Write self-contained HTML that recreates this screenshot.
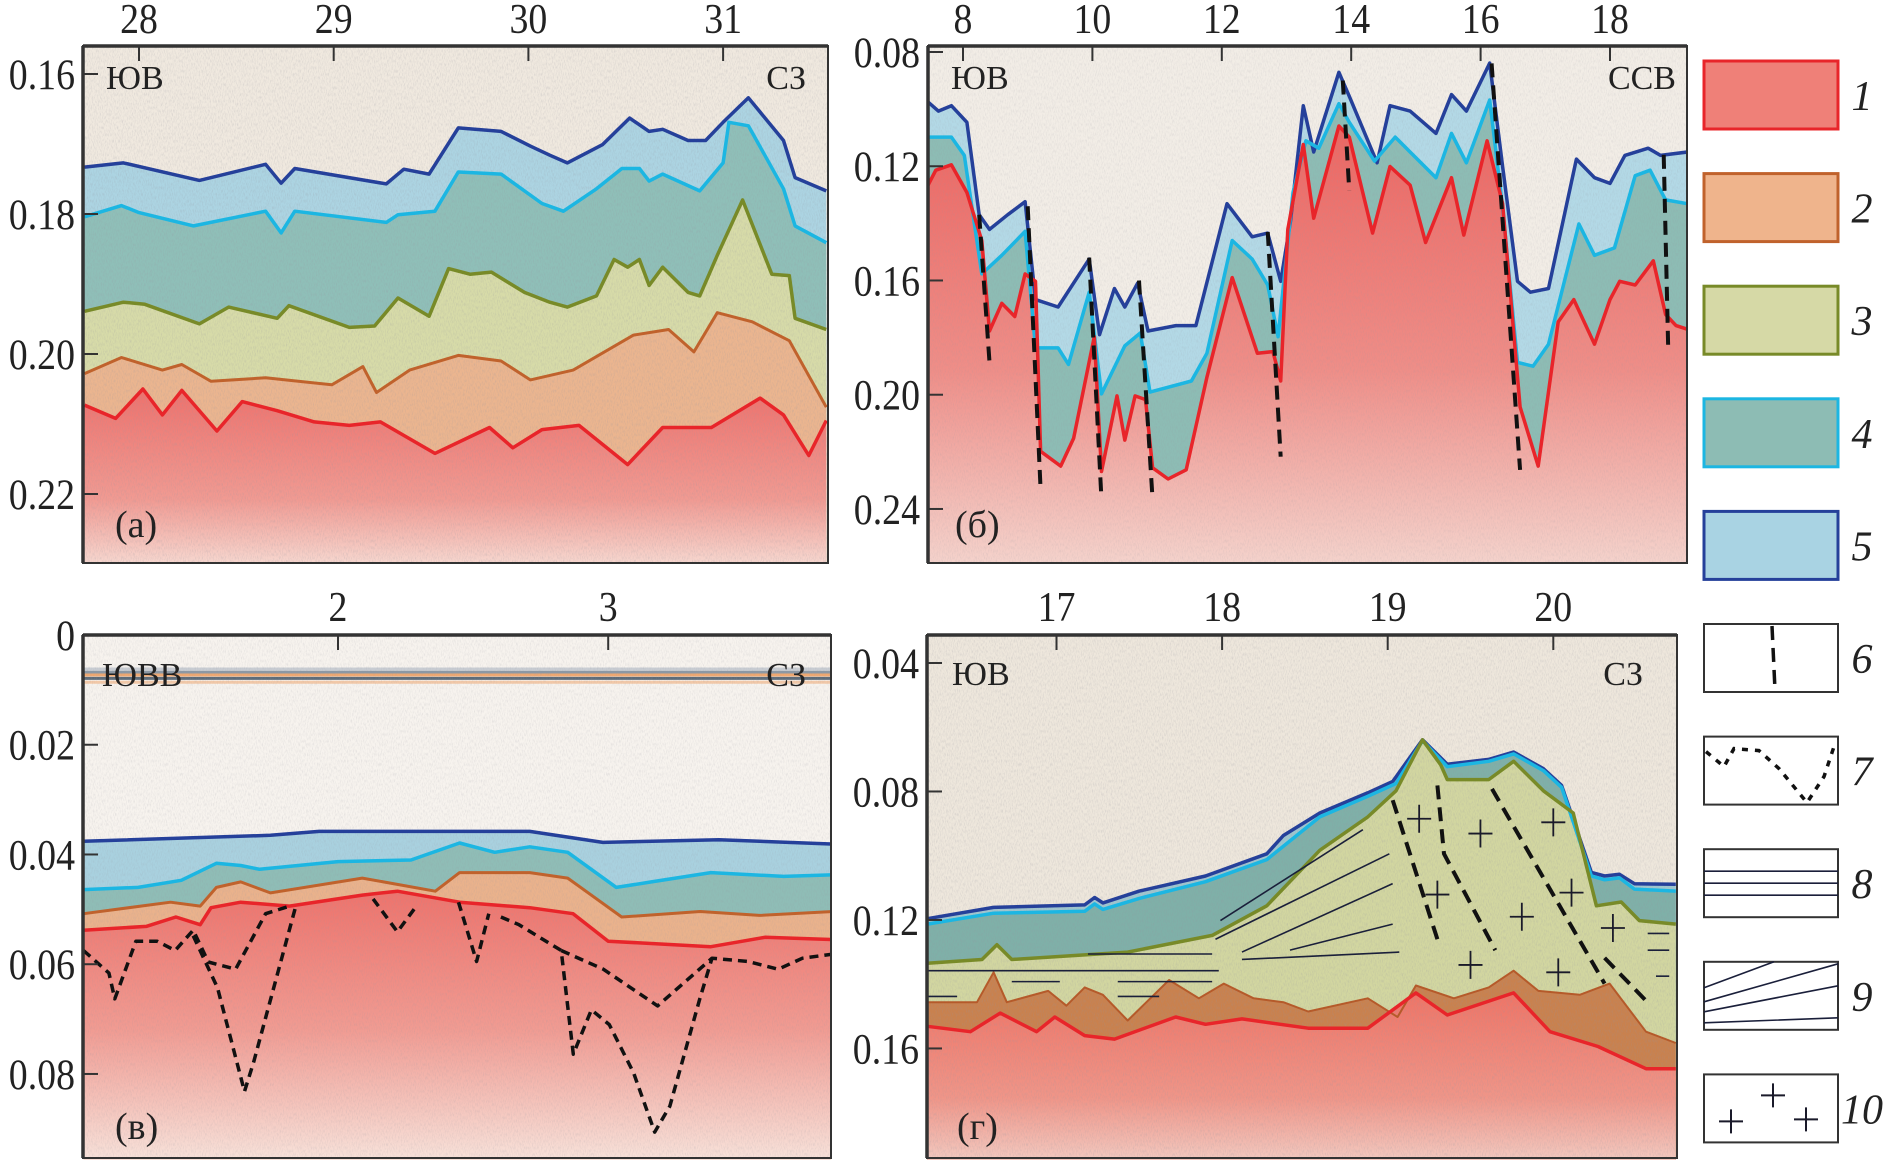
<!DOCTYPE html>
<html><head><meta charset="utf-8">
<style>
html,body{margin:0;padding:0;background:#fff;}
svg{display:block;}
text{font-family:"Liberation Serif",serif;fill:#222;}
</style></head>
<body>
<svg id="fig" xmlns="http://www.w3.org/2000/svg" width="1893" height="1160" viewBox="0 0 1893 1160">
<defs>
<filter id="noise" x="0" y="0" width="100%" height="100%">
<feTurbulence type="fractalNoise" baseFrequency="1.2 0.3" numOctaves="2" seed="3"/>
<feColorMatrix type="matrix" values="0 0 0 0 0.3  0 0 0 0 0.3  0 0 0 0 0.35  0 0 0 -2.4 1.35"/>
</filter>
<linearGradient id="redA" x1="0" y1="0" x2="0" y2="1"><stop offset="0" stop-color="#ee716c"/><stop offset="0.6" stop-color="#f19a92"/><stop offset="1" stop-color="#f8e0d8"/></linearGradient>
<linearGradient id="redB" x1="0" y1="0" x2="0" y2="1"><stop offset="0" stop-color="#ec6662"/><stop offset="0.55" stop-color="#ef8e88"/><stop offset="1" stop-color="#f5d6cf"/></linearGradient>
<linearGradient id="redC" x1="0" y1="0" x2="0" y2="1"><stop offset="0" stop-color="#ee736c"/><stop offset="0.5" stop-color="#f19b92"/><stop offset="1" stop-color="#f8e6de"/></linearGradient>
<linearGradient id="redD" x1="0" y1="0" x2="0" y2="1"><stop offset="0" stop-color="#ef7466"/><stop offset="0.6" stop-color="#f09588"/><stop offset="1" stop-color="#f3cfc6"/></linearGradient>
<clipPath id="clipA"><rect x="83" y="46" width="745" height="517"/></clipPath>
<clipPath id="clipB"><rect x="928" y="46" width="759" height="517"/></clipPath>
<clipPath id="clipC"><rect x="83" y="635" width="748" height="525"/></clipPath>
<clipPath id="clipD"><rect x="927" y="635" width="750" height="525"/></clipPath>
</defs>
</svg>
<script>
// ---------- Panel (a) data: distance km, time s ----------
const aNavyKm=[27.72,27.92,28.31,28.65,28.73,28.80,29.27,29.36,29.49,29.64,29.86,30.01,30.11,30.20,30.38,30.52,30.62,30.69,30.82,30.91,31.00,31.13,31.31,31.37,31.53];
const aNavyT=[0.1733,0.1727,0.1752,0.1729,0.1756,0.1735,0.1757,0.1736,0.1743,0.1677,0.1682,0.1703,0.1716,0.1727,0.1701,0.1663,0.1682,0.1679,0.1695,0.1695,0.1669,0.1634,0.1695,0.1748,0.1767];
const aCyanKm=[27.72,27.91,28.00,28.28,28.65,28.73,28.80,29.27,29.33,29.52,29.64,29.86,30.07,30.18,30.35,30.48,30.57,30.62,30.69,30.88,31.00,31.03,31.13,31.31,31.37,31.53];
const aCyanT=[0.1804,0.1788,0.1798,0.1817,0.1796,0.1827,0.1796,0.1812,0.1801,0.1796,0.1740,0.1743,0.1785,0.1796,0.1764,0.1735,0.1735,0.1753,0.1743,0.1767,0.1727,0.1669,0.1674,0.1764,0.1817,0.1841];
const aOliveKm=[27.72,27.92,28.03,28.31,28.46,28.71,28.77,29.08,29.21,29.33,29.49,29.59,29.70,29.81,29.98,30.11,30.20,30.35,30.44,30.51,30.57,30.62,30.69,30.82,30.88,30.97,31.10,31.25,31.34,31.37,31.53];
const aOliveT=[0.1939,0.1926,0.1929,0.1957,0.1933,0.1949,0.1931,0.1962,0.1960,0.1920,0.1946,0.1878,0.1886,0.1883,0.1912,0.1926,0.1933,0.1917,0.1865,0.1876,0.1865,0.1902,0.1876,0.1912,0.1917,0.1859,0.1780,0.1886,0.1888,0.1949,0.1965];
const aOrangeKm=[27.72,27.91,28.12,28.22,28.37,28.65,28.99,29.15,29.22,29.39,29.64,29.86,30.01,30.23,30.54,30.72,30.85,30.97,31.15,31.34,31.53];
const aOrangeT=[0.2028,0.2005,0.2023,0.2015,0.2039,0.2034,0.2044,0.2018,0.2055,0.2023,0.2002,0.2010,0.2037,0.2023,0.1973,0.1965,0.1997,0.1941,0.1954,0.1981,0.2076];
const aRedKm=[27.72,27.88,28.02,28.12,28.22,28.40,28.53,28.71,28.90,29.08,29.24,29.52,29.80,29.92,30.07,30.26,30.51,30.69,30.94,31.19,31.31,31.44,31.53];
const aRedT=[0.2073,0.2092,0.2050,0.2087,0.2052,0.2110,0.2068,0.2081,0.2097,0.2102,0.2097,0.2142,0.2105,0.2134,0.2108,0.2102,0.2158,0.2105,0.2105,0.2063,0.2087,0.2145,0.2095];
const aTicksX=[28,29,30,31];
const aTicksY=[0.16,0.18,0.20,0.22];

// ---------- Panel (б) ----------
const bNavyKm=[7.46,7.62,7.82,8.06,8.25,8.41,8.69,8.96,9.12,9.47,9.95,10.11,10.34,10.50,10.70,10.86,11.29,11.60,12.08,12.47,12.71,12.91,13.06,13.26,13.42,13.81,13.97,14.40,14.60,14.91,15.31,15.55,15.78,16.14,16.34,16.57,16.77,17.05,17.48,17.76,18.00,18.23,18.59,18.78,19.20];
const bNavyT=[0.0975,0.1007,0.0988,0.1046,0.1370,0.1421,0.1370,0.1324,0.1667,0.1693,0.1525,0.1790,0.1628,0.1693,0.1609,0.1777,0.1758,0.1758,0.1331,0.1447,0.1434,0.1603,0.1395,0.0988,0.1150,0.0871,0.0955,0.1188,0.0988,0.1007,0.1085,0.0949,0.1007,0.0839,0.1201,0.1603,0.1641,0.1628,0.1175,0.1240,0.1260,0.1162,0.1137,0.1162,0.1150];
const bCyanKm=[7.46,7.82,8.02,8.29,8.60,8.96,9.12,9.47,9.63,9.95,10.14,10.50,10.74,10.89,11.53,11.77,12.16,12.47,12.71,12.87,13.10,13.30,13.50,13.81,13.97,14.36,14.68,14.91,15.31,15.55,15.78,16.14,16.34,16.57,16.81,17.05,17.52,17.76,18.07,18.39,18.62,18.86,19.20];
const bCyanT=[0.1098,0.1098,0.1162,0.1577,0.1512,0.1428,0.1836,0.1836,0.1894,0.1641,0.1997,0.1829,0.1784,0.1991,0.1952,0.1855,0.1460,0.1525,0.1616,0.1797,0.1292,0.1111,0.1137,0.0981,0.1046,0.1182,0.1098,0.1150,0.1240,0.1085,0.1188,0.0968,0.1344,0.1887,0.1900,0.1823,0.1402,0.1512,0.1486,0.1233,0.1214,0.1318,0.1331];
const bRedKm=[7.46,7.58,7.82,8.06,8.29,8.41,8.60,8.80,8.96,9.12,9.20,9.51,9.71,10.03,10.14,10.38,10.50,10.66,10.82,10.93,11.17,11.45,11.77,12.16,12.55,12.79,12.91,13.02,13.26,13.42,13.81,13.97,14.33,14.60,14.91,15.15,15.55,15.74,16.10,16.34,16.61,16.89,17.20,17.44,17.76,18.00,18.15,18.39,18.67,18.86,19.02,19.20];
const bRedT=[0.1266,0.1214,0.1195,0.1292,0.1460,0.1777,0.1680,0.1726,0.1577,0.1603,0.2198,0.2250,0.2153,0.1797,0.2269,0.2004,0.2159,0.2004,0.2017,0.2256,0.2295,0.2263,0.1939,0.1590,0.1855,0.1849,0.1952,0.1421,0.1124,0.1382,0.1059,0.1098,0.1434,0.1201,0.1266,0.1467,0.1240,0.1441,0.1111,0.1331,0.2043,0.2250,0.1745,0.1667,0.1823,0.1667,0.1603,0.1616,0.1531,0.1719,0.1758,0.1771];
const bFaultKm0=[8.25,9.00,9.95,10.72,12.71,13.87,16.17,18.83];
const bFaultT0=[0.137,0.134,0.152,0.160,0.143,0.090,0.084,0.116];
const bFaultKm1=[8.41,9.20,10.14,10.93,12.91,13.97,16.61,18.90];
const bFaultT1=[0.1887,0.2334,0.2366,0.2366,0.2217,0.1285,0.2263,0.1842];
const bTicksX=[8,10,12,14,16,18];
const bTicksY=[0.08,0.12,0.16,0.20,0.24];

// ---------- Panel (в) ----------
const cNavyKm=[1.058,1.75,1.93,2.45,2.71,2.98,3.41,3.83];
const cNavyT=[0.0376,0.0365,0.0358,0.0358,0.0358,0.0378,0.0373,0.0381];
const cCyanKm=[1.058,1.26,1.42,1.55,1.64,1.71,2.00,2.27,2.45,2.58,2.71,2.85,3.03,3.16,3.38,3.65,3.83];
const cCyanT=[0.0464,0.0460,0.0447,0.0416,0.0420,0.0427,0.0413,0.0410,0.0379,0.0396,0.0386,0.0396,0.0460,0.0450,0.0433,0.0440,0.0437];
const cOrangeKm=[1.058,1.38,1.49,1.55,1.64,1.75,2.09,2.36,2.45,2.71,2.85,3.05,3.34,3.56,3.83];
const cOrangeT=[0.0508,0.0487,0.0494,0.0460,0.0450,0.0470,0.0443,0.0467,0.0433,0.0433,0.0443,0.0514,0.0504,0.0511,0.0504];
const cRedKm=[1.058,1.29,1.40,1.49,1.53,1.64,1.82,2.09,2.22,2.45,2.71,2.87,3.00,3.38,3.58,3.83];
const cRedT=[0.0538,0.0531,0.0514,0.0528,0.0497,0.0487,0.0494,0.0474,0.0467,0.0487,0.0497,0.0508,0.0558,0.0568,0.0551,0.0555];
const cDotAKm=[1.058,1.152,1.174,1.252,1.330,1.397,1.464,1.520,1.621,1.732,1.821];
const cDotAT=[0.0575,0.0616,0.0663,0.0558,0.0558,0.0575,0.0538,0.0596,0.0609,0.0508,0.0494];
const cDotBKm=[1.464,1.554,1.654,1.688,1.844];
const cDotBT=[0.0548,0.0643,0.0832,0.0778,0.0494];
const cDotCKm=[2.603,2.670,2.759,2.826,2.871,2.938,3.004,3.094,3.172,3.228,3.339,3.384];
const cDotCT=[0.0514,0.0528,0.0555,0.0575,0.0764,0.0683,0.0710,0.0798,0.0906,0.0859,0.0663,0.0589];
const cDotDKm=[2.826,2.982,3.183,3.384,3.518,3.629,3.719,3.826];
const cDotDT=[0.0575,0.0609,0.0676,0.0589,0.0595,0.0609,0.0589,0.0582];
const cDotEKm=[2.13,2.22,2.29];
const cDotET=[0.0481,0.0541,0.0494];
const cDotFKm=[2.446,2.513,2.558];
const cDotFT=[0.0487,0.0595,0.0508];
const cTicksX=[2,3];
const cTicksY=[0,0.02,0.04,0.06,0.08];

// ---------- Panel (г) ----------
const dNavyKm=[16.22,16.62,17.17,17.23,17.28,17.50,17.90,18.27,18.37,18.59,18.88,19.03,19.21,19.36,19.61,19.76,19.94,20.05,20.23,20.31,20.40,20.49,20.74];
const dNavyT=[0.1196,0.1161,0.1153,0.1130,0.1147,0.1110,0.1063,0.0994,0.0937,0.0867,0.0804,0.0769,0.0639,0.0715,0.0700,0.0677,0.0729,0.0781,0.1052,0.1063,0.1058,0.1087,0.1089];
const dCyanKm=[16.22,16.62,17.17,17.23,17.28,17.50,17.90,18.27,18.59,18.88,19.05,19.21,19.36,19.61,19.76,19.94,20.05,20.23,20.31,20.40,20.49,20.74];
const dCyanT=[0.1213,0.1179,0.1173,0.1150,0.1167,0.1133,0.1081,0.1012,0.0879,0.0815,0.0775,0.0642,0.0723,0.0706,0.0683,0.0735,0.0787,0.1063,0.1075,0.1069,0.1104,0.1110];
const dOliveKm=[16.22,16.55,16.64,16.73,17.43,17.94,18.27,18.59,18.88,19.05,19.21,19.32,19.36,19.61,19.76,19.94,20.12,20.26,20.41,20.52,20.74];
const dOliveT=[0.1335,0.1323,0.1277,0.1323,0.1300,0.1248,0.1156,0.0983,0.0879,0.0798,0.0639,0.0717,0.0763,0.0763,0.0706,0.0798,0.0867,0.1156,0.1144,0.1202,0.1213];
const dOrangeKm=[16.22,16.52,16.62,16.70,16.95,17.06,17.17,17.28,17.43,17.68,17.86,18.01,18.19,18.37,18.52,18.88,19.06,19.17,19.40,19.61,19.76,19.91,20.16,20.34,20.56,20.74];
const dOrangeT=[0.1456,0.1456,0.1363,0.1456,0.1421,0.1467,0.1410,0.1433,0.1513,0.1387,0.1444,0.1398,0.1444,0.1456,0.1485,0.1444,0.1502,0.1404,0.1444,0.1410,0.1358,0.1421,0.1433,0.1398,0.1548,0.1583];
const dRedKm=[16.22,16.48,16.66,16.88,16.99,17.17,17.35,17.72,17.90,18.12,18.52,18.88,19.17,19.36,19.76,19.98,20.27,20.56,20.74];
const dRedT=[0.1531,0.1548,0.1490,0.1548,0.1502,0.1560,0.1571,0.1502,0.1525,0.1508,0.1537,0.1537,0.1427,0.1496,0.1427,0.1548,0.1594,0.1663,0.1663];
const dFault1Km=[19.03,19.30];   const dFault1T=[0.0827,0.1260];
const dFault2Km=[19.30,19.34,19.65]; const dFault2T=[0.0781,0.0994,0.1294];
const dFault3Km=[19.63,20.31];   const dFault3T=[0.0792,0.1398];
const dFault4Km=[20.31,20.58];   const dFault4T=[0.1318,0.1462];
const dRayKm0=[17.99,17.96,18.12,18.41,18.12];
const dRayT0=[0.1202,0.1260,0.1300,0.1294,0.1323];
const dRayKm1=[18.85,19.01,19.03,19.03,19.07];
const dRayT1=[0.0919,0.0994,0.1087,0.1213,0.1300];
const dHorKm0=[17.19,16.22,16.73,17.37,16.22,17.37,20.57,20.57,20.62];
const dHorKm1=[17.94,17.98,17.02,17.94,16.40,17.62,20.70,20.70,20.70];
const dHorT=[0.1306,0.1358,0.1392,0.1392,0.1438,0.1438,0.1242,0.1294,0.1375];
const dCrossKm=[19.19,19.56,20.00,19.30,20.11,19.81,20.36,19.50,20.03];
const dCrossT=[0.0885,0.0931,0.0896,0.1121,0.1115,0.1190,0.1225,0.1340,0.1363];
const dTicksX=[17,18,19,20];
const dTicksY=[0.04,0.08,0.12,0.16];

// ---------- Legend ----------
const legendLabels=['1','2','3','4','5','6','7','8','9','10'];

// ---------- drawing ----------
const NS='http://www.w3.org/2000/svg';
const svg=document.getElementById('fig');
function mk(tag,attrs,parent){const e=document.createElementNS(NS,tag);for(const k in attrs)e.setAttribute(k,attrs[k]);(parent||svg).appendChild(e);return e;}

const PA={id:'a',left:83,right:828,top:46,bottom:563,x:d=>139+(d-28)*194.7,y:t=>74+(t-0.16)*7000,bg:'#f0e9df',clip:'clipA'};
const PB={id:'b',left:928,right:1687,top:46,bottom:563,x:d=>963+(d-8)*64.7,y:t=>52+(t-0.08)*2856,bg:'#f2ede6',clip:'clipB'};
const PC={id:'c',left:83,right:831,top:635,bottom:1158,x:d=>338+(d-2)*270.2,y:t=>635+t*5487,bg:'#f7f3ee',clip:'clipC'};
const PD={id:'d',left:927,right:1677,top:635,bottom:1158,x:d=>1056.5+(d-17)*165.6,y:t=>663+(t-0.04)*3212,bg:'#eee7dc',clip:'clipD'};

function panelGroup(P){
  const g=mk('g',{'clip-path':'url(#'+P.clip+')'});
  
  
  const bg=mk('rect',{x:P.left,y:P.top,width:P.right-P.left,height:P.bottom-P.top,fill:P.bg},g);
  
  
  return g;
}
function layer(P,g,xs,ts,fill,stroke,sw,name,fop){
  const pts=xs.map((d,i)=>[P.x(d),P.y(ts[i])]);
  const poly=pts.map(p=>p[0].toFixed(1)+','+p[1].toFixed(1)).join(' ')+' '+pts[pts.length-1][0].toFixed(1)+','+(P.bottom+10)+' '+pts[0][0].toFixed(1)+','+(P.bottom+10);
  const f=mk('polygon',{points:poly,fill:fill,'fill-opacity':fop||1},g);
  
  
  return pts;
}
function hline(g,pts,stroke,sw,name,dash){
  const a={points:pts.map(p=>p[0].toFixed(1)+','+p[1].toFixed(1)).join(' '),fill:'none',stroke:stroke,'stroke-width':sw,'stroke-linejoin':'round'};
  if(dash)a['stroke-dasharray']=dash;
  const l=mk('polyline',a,g);
  
  
}
function series(P,xs,ts){return xs.map((d,i)=>[P.x(d),P.y(ts[i])]);}
function noise(P,g,op){
  const r=mk('rect',{x:P.left,y:P.top,width:P.right-P.left,height:P.bottom-P.top,filter:'url(#noise)',opacity:op},g);
  
  
}
function axes(P,ticksX,ticksY,fmtY,xlabY){
  const fr=mk('rect',{x:P.left,y:P.top,width:P.right-P.left,height:P.bottom-P.top,fill:'none',stroke:'#333','stroke-width':2});
  
  
  const tl=mk('line',{x1:P.left,y1:P.top,x2:P.right,y2:P.top,stroke:'#333','stroke-width':3.5});
  
  
  const ll=mk('line',{x1:P.left,y1:P.top,x2:P.left,y2:P.bottom,stroke:'#333','stroke-width':3.5});
  
  
  ticksX.forEach(v=>{
    const x=P.x(v);
    const t=mk('line',{x1:x,y1:P.top,x2:x,y2:P.top+15,stroke:'#333','stroke-width':2});
    
    
    const lb=mk('text',{x:x,y:xlabY,'text-anchor':'middle','font-size':42,transform:'translate('+x+' 0) scale(0.9 1) translate('+(-x)+' 0)'});
    
    
    lb.textContent=String(v);
  });
  ticksY.forEach(v=>{
    const y=P.y(v);
    const t=mk('line',{x1:P.left,y1:y,x2:P.left+15,y2:y,stroke:'#333','stroke-width':2});
    
    
    const lx=P.left-8;
    const lb=mk('text',{x:lx,y:y+15,'text-anchor':'end','font-size':43,transform:'translate('+lx+' 0) scale(0.88 1) translate('+(-lx)+' 0)'});
    
    
    lb.textContent=fmtY(v);
  });
}
function label(txt,x,y,anchor,name,size){
  const t=mk('text',{x:x,y:y,'text-anchor':anchor,'font-size':size||34});
  
  
  t.textContent=txt;
}
const f2=v=>v.toFixed(2);

// Panel A
(function(){
  const P=PA,g=panelGroup(P);
  const n=layer(P,g,aNavyKm,aNavyT,'#acd4e2');
  const c=layer(P,g,aCyanKm,aCyanT,'#8fbfb8');
  const o=layer(P,g,aOliveKm,aOliveT,'#d7dba8');
  const r0=layer(P,g,aOrangeKm,aOrangeT,'#ebb58f');
  const r=layer(P,g,aRedKm,aRedT,'url(#redA)');
  noise(P,g,0.25);
  hline(g,n,'#25409a',3.5,'horizon-5-line');
  hline(g,c,'#1cb6e2',3.5,'horizon-4-line');
  hline(g,o,'#788a28',3.5,'horizon-3-line');
  hline(g,r0,'#c0622c',3,'horizon-2-line');
  hline(g,r,'#e8252a',3.5,'horizon-1-line');
  axes(P,aTicksX,aTicksY,f2,33);
  label('ЮВ',106,89,'start','direction-left');
  label('СЗ',806,89,'end','direction-right');
  label('(а)',115,537,'start','panel-a-label',38);
})();
// Panel B
(function(){
  const P=PB,g=panelGroup(P);
  const n=layer(P,g,bNavyKm,bNavyT,'#b3d9e6');
  const c=layer(P,g,bCyanKm,bCyanT,'#8dbcb4');
  const r=layer(P,g,bRedKm,bRedT,'url(#redB)');
  noise(P,g,0.18);
  hline(g,n,'#25409a',3.5,'horizon-5-line');
  hline(g,c,'#1cb6e2',3.5,'horizon-4-line');
  hline(g,r,'#e8252a',3.5,'horizon-1-line');
  bFaultKm0.forEach((d,i)=>{
    const l=mk('line',{x1:P.x(d),y1:P.y(bFaultT0[i]),x2:P.x(bFaultKm1[i]),y2:P.y(bFaultT1[i]),stroke:'#111','stroke-width':4,'stroke-dasharray':'14 8'},g);
    
    
  });
  axes(P,bTicksX,bTicksY,f2,33);
  label('ЮВ',951,89,'start','direction-left');
  label('ССВ',1676,89,'end','direction-right');
  label('(б)',955,537,'start','panel-b-label',38);
})();
// Panel C
(function(){
  const P=PC,g=panelGroup(P);
  const sb=[0.0062,0.0068,0.0073,0.0079,0.0086];
  const sc=['#c9cdd3','#8c98a4','#f0a870','#5d6b78','#f3c9a8'];
  sb.forEach((t,i)=>{const l=mk('line',{x1:P.left,x2:P.right,y1:P.y(t),y2:P.y(t),stroke:sc[i],'stroke-width':3},g);
    
    });
  const n=layer(P,g,cNavyKm,cNavyT,'#a9d1df');
  const c=layer(P,g,cCyanKm,cCyanT,'#8fbdb6');
  const o=layer(P,g,cOrangeKm,cOrangeT,'#eab28c');
  const r=layer(P,g,cRedKm,cRedT,'url(#redC)');
  noise(P,g,0.2);
  hline(g,n,'#25409a',3.5,'horizon-5-line');
  hline(g,c,'#1cb6e2',3.5,'horizon-4-line');
  hline(g,o,'#c0622c',3,'horizon-2-line');
  hline(g,r,'#e8252a',3.5,'horizon-1-line');
  [[cDotAKm,cDotAT],[cDotBKm,cDotBT],[cDotCKm,cDotCT],[cDotDKm,cDotDT],[cDotEKm,cDotET],[cDotFKm,cDotFT]].forEach(s=>{
    hline(g,series(P,s[0],s[1]),'#111',3.5,'channel-boundary-dotted','9 6');
  });
  axes(P,cTicksX,cTicksY,v=>v===0?'0':f2(v),621);
  label('ЮВВ',102,686,'start','direction-left');
  label('СЗ',806,686,'end','direction-right');
  label('(в)',115,1139,'start','panel-c-label',38);
})();
// Panel D
(function(){
  const P=PD,g=panelGroup(P);
  const n=layer(P,g,dNavyKm,dNavyT,'#9fc6cf');
  const c=layer(P,g,dCyanKm,dCyanT,'#7fb0a8');
  const o=layer(P,g,dOliveKm,dOliveT,'#d2d6a0');
  const r0=layer(P,g,dOrangeKm,dOrangeT,'#c9814e');
  const r=layer(P,g,dRedKm,dRedT,'url(#redD)');
  noise(P,g,0.25);
  hline(g,n,'#25409a',3.5,'horizon-5-line');
  hline(g,c,'#1cb6e2',3.5,'horizon-4-line');
  hline(g,o,'#788a28',3.5,'horizon-3-line');
  hline(g,r0,'#b55a2a',2,'horizon-2-line');
  hline(g,r,'#e8252a',3.5,'horizon-1-line');
  dRayKm0.forEach((d,i)=>{
    const l=mk('line',{x1:P.x(d),y1:P.y(dRayT0[i]),x2:P.x(dRayKm1[i]),y2:P.y(dRayT1[i]),stroke:'#1a1f3a','stroke-width':1.6},g);
    
    
  });
  dHorKm0.forEach((d,i)=>{
    const l=mk('line',{x1:P.x(d),y1:P.y(dHorT[i]),x2:P.x(dHorKm1[i]),y2:P.y(dHorT[i]),stroke:'#1a1f3a','stroke-width':1.6},g);
    
    
  });
  [[dFault1Km,dFault1T],[dFault2Km,dFault2T],[dFault3Km,dFault3T],[dFault4Km,dFault4T]].forEach(s=>{
    hline(g,series(P,s[0],s[1]),'#111',4,'fault-line','14 8');
  });
  dCrossKm.forEach((d,i)=>{
    const x=P.x(d),y=P.y(dCrossT[i]);
    const cr=mk('path',{d:'M'+(x-12)+' '+y+'H'+(x+12)+'M'+x+' '+(y-14)+'V'+(y+14),stroke:'#1a1a2a','stroke-width':1.8,fill:'none'},g);
    
    
  });
  axes(P,dTicksX,dTicksY,f2,621);
  label('ЮВ',952,685,'start','direction-left');
  label('СЗ',1643,685,'end','direction-right');
  label('(г)',957,1139,'start','panel-d-label',38);
})();

// Legend
const legFill=['#ef8078','#efb48c','#d6d9a6','#8dbcb4','#a9d3e3'];
const legStroke=['#e8252a','#c0622c','#788a28','#1cb6e2','#25409a'];
for(let i=0;i<10;i++){
  const top=61+i*112.6, L=1704, R=1838, H=68;
  const box=mk('rect',{x:L,y:top,width:R-L,height:H,fill:i<5?legFill[i]:'#fff',stroke:i<5?legStroke[i]:'#333','stroke-width':i<5?3:2});
  
  
  const t=mk('text',{x:1862,y:top+H/2+15,'text-anchor':'middle','font-size':42,'font-style':'italic'});
  
  
  t.textContent=legendLabels[i];
  let s;
  if(i===5){s=mk('line',{x1:1772,y1:top+2,x2:1775,y2:top+H-2,stroke:'#111','stroke-width':3.5,'stroke-dasharray':'14 8'});}
  if(i===6){s=mk('polyline',{points:(L+2)+','+(top+15)+' '+(L+20)+','+(top+30)+' '+(L+30)+','+(top+12)+' '+(L+55)+','+(top+14)+' '+(L+75)+','+(top+32)+' '+(L+103)+','+(top+66)+' '+(L+120)+','+(top+40)+' '+(L+130)+','+(top+10),fill:'none',stroke:'#111','stroke-width':3.5,'stroke-dasharray':'6 7'});}
  if(i===7){s=mk('path',{d:'M'+L+' '+(top+22)+'H'+R+'M'+L+' '+(top+34)+'H'+R+'M'+L+' '+(top+46)+'H'+R,stroke:'#1a1f3a','stroke-width':1.6,fill:'none'});}
  if(i===8){s=mk('path',{d:'M'+L+' '+(top+26)+'L'+(L+70)+' '+top+'M'+L+' '+(top+40)+'L'+R+' '+(top+2)+'M'+L+' '+(top+50)+'L'+R+' '+(top+24)+'M'+L+' '+(top+61)+'L'+R+' '+(top+56),stroke:'#1a1f3a','stroke-width':1.6,fill:'none'});}
  if(i===9){s=mk('path',{d:'M1719 '+(top+47)+'H1743M1731 '+(top+35)+'V'+(top+59)+'M1761 '+(top+21)+'H1785M1773 '+(top+9)+'V'+(top+33)+'M1794 '+(top+45)+'H1818M1806 '+(top+33)+'V'+(top+57),stroke:'#1a1a2a','stroke-width':2,fill:'none'});}
  if(s){
  }
}
</script>
</body></html>
